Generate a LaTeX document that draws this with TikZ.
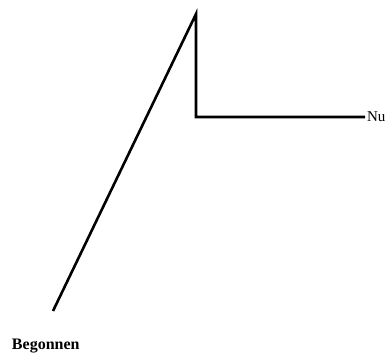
\documentclass[tikz,border=0pt]{standalone}
\usepackage{fontspec}
\setmainfont{Liberation Serif}
\usetikzlibrary{positioning}
\tikzset{
    trend/.style={draw, line width=2.6pt, line join=miter},
    lbl/.style={inner sep=0pt, outer sep=0pt}
}
\begin{document}
\begin{tikzpicture}[x=1pt, y=-1pt]
  \useasboundingbox (0,0) rectangle (391,358);
  \coordinate(start) at (53,311);
  \coordinate(peak) at (196,14);
  \coordinate(dip) at (196,117);
  \coordinate(now) at (365,117);
  \node(begin)[lbl, anchor=west, font=\bfseries\fontsize{16}{18}\selectfont] at (12,346){Begonnen};
  \node(nu)[lbl, font=\fontsize{15}{17}\selectfont, right=2pt of now]{Nu};
  \draw[trend](start)--(peak)--(dip)--(now);
\end{tikzpicture}
\end{document}
